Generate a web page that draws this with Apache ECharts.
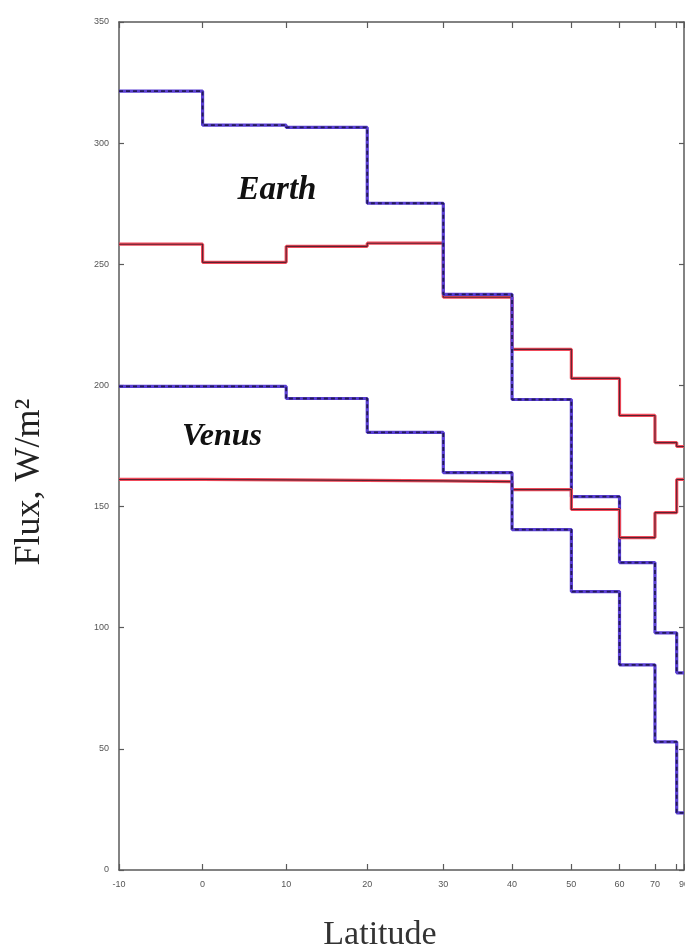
<!DOCTYPE html>
<html>
<head>
<meta charset="utf-8">
<script src="https://cdn.jsdelivr.net/npm/echarts@6/dist/echarts.min.js"></script>
<style>html,body{margin:0;padding:0;background:#fff}#c{width:685px;height:949px}</style>
</head>
<body>
<div id="c"></div>
<script>
// Latitude bin edges (degrees); axis is linear in sin(latitude)
const latEdges = [-10, 0, 10, 20, 30, 40, 50, 60, 70, 80, 90];
const tickLats = [-10, 0, 10, 20, 30, 40, 50, 60, 70, 80, 90];
const labelLats = [-10, 0, 10, 20, 30, 40, 50, 60, 70, 90];
const yTicks = [0, 50, 100, 150, 200, 250, 300, 350];
// Flux per latitude bin (W/m2)
const earthBlue = [321.5, 307.4, 306.5, 275.2, 237.6, 194.2, 154.1, 126.9, 97.9, 81.4];
const earthRed  = [258.3, 250.8, 257.4, 258.7, 236.4, 214.9, 202.9, 187.6, 176.4, 174.8];
const venusBlue = [199.6, 199.6, 194.6, 180.6, 164.0, 140.5, 114.9, 84.7, 52.9, 23.6];
const venusRed  = [161.2, 161.0, 160.8, 160.6, 160.3, 157.0, 148.8, 137.2, 147.5, 161.2];

const s = d => Math.sin(d * Math.PI / 180);
function steps(vals) {
  const pts = vals.map((v, i) => [s(latEdges[i]), v]);
  pts.push([s(latEdges[latEdges.length - 1]), vals[vals.length - 1]]);
  return pts;
}
const toLat = v => Math.round(Math.asin(Math.max(-1, Math.min(1, v))) * 180 / Math.PI);

const axisCol = '#5a5a5a';
const BLUE = '#5a3fd4', BLUE_D = '#231a58', RED = '#f04a5a', RED_D = '#5e2230';

function blueSeries(vals) {
  return [
    {type: 'line', step: 'end', data: steps(vals), symbol: 'none', silent: true,
     lineStyle: {color: BLUE, width: 3.2}},
    {type: 'line', step: 'end', data: steps(vals), symbol: 'none', silent: true,
     lineStyle: {color: BLUE_D, width: 1.8, type: [4, 3]}}
  ];
}
function redSeries(vals) {
  return [
    {type: 'line', step: 'end', data: steps(vals), symbol: 'none', silent: true,
     lineStyle: {color: RED, width: 3.2}},
    {type: 'line', step: 'end', data: steps(vals), symbol: 'none', silent: true,
     lineStyle: {color: RED_D, width: 1.1}}
  ];
}

const xCommon = {
  type: 'value', min: s(-10), max: 1,
  axisLine: {show: true, onZero: false, lineStyle: {color: axisCol, width: 1.5}},
  axisTick: {show: true, inside: true, length: 6, customValues: tickLats.map(s), lineStyle: {color: axisCol, width: 1.2}},
  splitLine: {show: false}
};
const yCommon = {
  type: 'value', min: 0, max: 350, interval: 50,
  axisLine: {show: true, onZero: false, lineStyle: {color: axisCol, width: 1.5}},
  axisTick: {show: true, inside: true, length: 5, lineStyle: {color: axisCol, width: 1.2}},
  splitLine: {show: false}
};

const chart = echarts.init(document.getElementById('c'), null, {renderer: 'canvas'});
chart.setOption({
  animation: false,
  backgroundColor: '#ffffff',
  grid: {left: 119, right: 1, top: 22, bottom: 79, containLabel: false, outerBoundsMode: 'none'},
  xAxis: [
    Object.assign({}, xCommon, {position: 'bottom',
      axisLabel: {show: true, customValues: labelLats.map(s), margin: 10,
        formatter: v => String(toLat(v)), color: '#555', fontSize: 9, fontFamily: 'Liberation Sans'}}),
    Object.assign({}, xCommon, {position: 'top', axisLabel: {show: false}})
  ],
  yAxis: [
    Object.assign({}, yCommon, {position: 'left',
      axisLabel: {show: true, margin: 10, color: '#555', fontSize: 9, fontFamily: 'Liberation Sans'}}),
    Object.assign({}, yCommon, {position: 'right', axisLabel: {show: false}})
  ],
  series: [].concat(
    redSeries(earthRed), blueSeries(earthBlue),
    redSeries(venusRed), blueSeries(venusBlue)
  ),
  graphic: [
    {type: 'text', x: 277, y: 190, style: {text: 'Earth', font: 'italic bold 33px "Liberation Serif"', fill: '#111', align: 'center', verticalAlign: 'middle'}},
    {type: 'text', x: 222, y: 437, style: {text: 'Venus', font: 'italic bold 32px "Liberation Serif"', fill: '#111', align: 'center', verticalAlign: 'middle'}},
    {type: 'text', x: 30, y: 482, rotation: Math.PI / 2,
     style: {text: 'Flux, W/m²', font: '36px "Liberation Serif"', fill: '#222', align: 'center', verticalAlign: 'middle'}},
    {type: 'text', x: 380, y: 935, style: {text: 'Latitude', font: '34px "Liberation Serif"', fill: '#333', align: 'center', verticalAlign: 'middle'}}
  ]
});
</script>
</body>
</html>
